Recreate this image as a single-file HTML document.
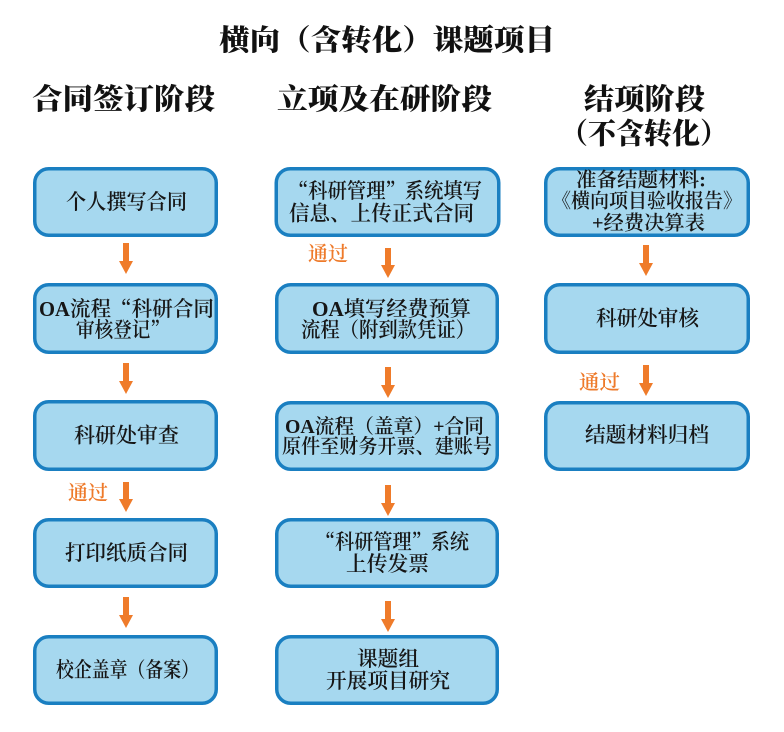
<!DOCTYPE html>
<html><head><meta charset="utf-8">
<style>
html,body{margin:0;padding:0;background:#fff;}
svg{display:block;}
.t{font-family:"Liberation Serif","Noto Serif CJK SC",serif;font-weight:600;fill:#161616;dominant-baseline:central;}
.h{font-family:"Liberation Serif","Noto Serif CJK SC",serif;font-weight:900;fill:#111;dominant-baseline:central;}
.o{font-family:"Liberation Serif","Noto Serif CJK SC",serif;font-weight:600;fill:#ee7a2a;dominant-baseline:central;}
.q{font-family:"Noto Serif CJK SC",serif;}
rect.b{fill:#a6d8ef;stroke:#1a7fc1;stroke-width:3.5;}
path.a{fill:#ef7b2a;}
</style></head>
<body>
<svg width="784" height="732" viewBox="0 0 784 732" xmlns="http://www.w3.org/2000/svg">
<rect x="0" y="0" width="784" height="732" fill="#fff"/>

<!-- Title -->
<text class="h" x="219" y="41" font-size="29" textLength="336" lengthAdjust="spacingAndGlyphs">横向（含转化）课题项目</text>

<!-- Headers -->
<text class="h" x="32" y="100" font-size="29" textLength="183" lengthAdjust="spacingAndGlyphs">合同签订阶段</text>
<text class="h" x="277" y="100" font-size="29" textLength="215" lengthAdjust="spacingAndGlyphs">立项及在研阶段</text>
<text class="h" x="584" y="100" font-size="29" textLength="121" lengthAdjust="spacingAndGlyphs">结项阶段</text>
<text class="h" x="560" y="134.5" font-size="29" textLength="168" lengthAdjust="spacingAndGlyphs">（不含转化）</text>

<!-- Left column boxes -->
<rect class="b" x="34.75" y="168.75" width="181.5" height="66.5" rx="14"/>
<rect class="b" x="34.75" y="284.75" width="181.5" height="67.5" rx="14"/>
<rect class="b" x="34.75" y="401.75" width="181.5" height="67.5" rx="14"/>
<rect class="b" x="34.75" y="519.75" width="181.5" height="66.5" rx="14"/>
<rect class="b" x="34.75" y="636.75" width="181.5" height="66.5" rx="14"/>

<!-- Middle column boxes -->
<rect class="b" x="276.25" y="168.75" width="222.5" height="66.5" rx="14"/>
<rect class="b" x="276.75" y="284.75" width="220.5" height="67.5" rx="14"/>
<rect class="b" x="276.75" y="402.75" width="220.5" height="66.5" rx="14"/>
<rect class="b" x="276.75" y="519.75" width="220.5" height="66.5" rx="14"/>
<rect class="b" x="276.75" y="636.75" width="220.5" height="66.5" rx="14"/>

<!-- Right column boxes -->
<rect class="b" x="545.75" y="168.75" width="202.5" height="66.5" rx="14"/>
<rect class="b" x="545.75" y="284.75" width="202.5" height="67.5" rx="14"/>
<rect class="b" x="545.75" y="402.75" width="202.5" height="66.5" rx="14"/>

<!-- Left column text -->
<text class="t" x="66" y="202" font-size="21" textLength="121" lengthAdjust="spacingAndGlyphs">个人撰写合同</text>
<text class="t" x="39" y="309" font-size="21" textLength="175" lengthAdjust="spacingAndGlyphs">OA流程<tspan class="q">“</tspan>科研合同</text>
<text class="t" x="76" y="330" font-size="21" textLength="93" lengthAdjust="spacingAndGlyphs">审核登记<tspan class="q">”</tspan></text>
<text class="t" x="74" y="435.5" font-size="21" textLength="105" lengthAdjust="spacingAndGlyphs">科研处审查</text>
<text class="t" x="65" y="553" font-size="21" textLength="123" lengthAdjust="spacingAndGlyphs">打印纸质合同</text>
<text class="t" x="56" y="670" font-size="21" textLength="143" lengthAdjust="spacingAndGlyphs">校企盖章（备案）</text>

<!-- Middle column text -->
<text class="t" x="289" y="191" font-size="21" textLength="193" lengthAdjust="spacingAndGlyphs"><tspan class="q">“</tspan>科研管理<tspan class="q">”</tspan>系统填写</text>
<text class="t" x="289" y="213.5" font-size="21" textLength="185" lengthAdjust="spacingAndGlyphs">信息、上传正式合同</text>
<text class="t" x="312" y="309" font-size="21" textLength="159" lengthAdjust="spacingAndGlyphs">OA填写经费预算</text>
<text class="t" x="301" y="330" font-size="21" textLength="174" lengthAdjust="spacingAndGlyphs">流程（附到款凭证）</text>
<text class="t" x="285" y="427" font-size="20" textLength="199" lengthAdjust="spacingAndGlyphs">OA流程（盖章）+合同</text>
<text class="t" x="282" y="447" font-size="20" textLength="210" lengthAdjust="spacingAndGlyphs">原件至财务开票、建账号</text>
<text class="t" x="316" y="542" font-size="21" textLength="153" lengthAdjust="spacingAndGlyphs"><tspan class="q">“</tspan>科研管理<tspan class="q">”</tspan>系统</text>
<text class="t" x="346" y="564" font-size="21" textLength="83" lengthAdjust="spacingAndGlyphs">上传发票</text>
<text class="t" x="357" y="659" font-size="21" textLength="62" lengthAdjust="spacingAndGlyphs">课题组</text>
<text class="t" x="326" y="681" font-size="21" textLength="124" lengthAdjust="spacingAndGlyphs">开展项目研究</text>

<!-- Right column text -->
<text class="t" x="576" y="180.5" font-size="20" textLength="130" lengthAdjust="spacingAndGlyphs">准备结题材料:</text>
<text class="t" x="552" y="201.5" font-size="20" textLength="190" lengthAdjust="spacingAndGlyphs">《横向项目验收报告》</text>
<text class="t" x="592" y="223.5" font-size="20" textLength="113" lengthAdjust="spacingAndGlyphs">+经费决算表</text>
<text class="t" x="596" y="318.5" font-size="21" textLength="103" lengthAdjust="spacingAndGlyphs">科研处审核</text>
<text class="t" x="585" y="435" font-size="21" textLength="124" lengthAdjust="spacingAndGlyphs">结题材料归档</text>

<!-- 通过 labels -->
<text class="o" x="68" y="493.5" font-size="20" textLength="40" lengthAdjust="spacingAndGlyphs">通过</text>
<text class="o" x="308" y="254.5" font-size="20" textLength="40" lengthAdjust="spacingAndGlyphs">通过</text>
<text class="o" x="579" y="383" font-size="20" textLength="41" lengthAdjust="spacingAndGlyphs">通过</text>

<!-- Arrows -->
<path class="a" d="M123 243 H129 V261 H133 L126 274 L119 261 H123 Z"/>
<path class="a" d="M123 363 H129 V381 H133 L126 394 L119 381 H123 Z"/>
<path class="a" d="M123 482 H129 V499 H133 L126 512 L119 499 H123 Z"/>
<path class="a" d="M123 597 H129 V615 H133 L126 628 L119 615 H123 Z"/>

<path class="a" d="M385 248 H391 V265 H395 L388 278 L381 265 H385 Z"/>
<path class="a" d="M385 367 H391 V385 H395 L388 398 L381 385 H385 Z"/>
<path class="a" d="M385 485 H391 V503 H395 L388 516 L381 503 H385 Z"/>
<path class="a" d="M385 601 H391 V619 H395 L388 632 L381 619 H385 Z"/>

<path class="a" d="M643 245 H649 V263 H653 L646 276 L639 263 H643 Z"/>
<path class="a" d="M643 365 H649 V383 H653 L646 396 L639 383 H643 Z"/>
</svg>
</body></html>
